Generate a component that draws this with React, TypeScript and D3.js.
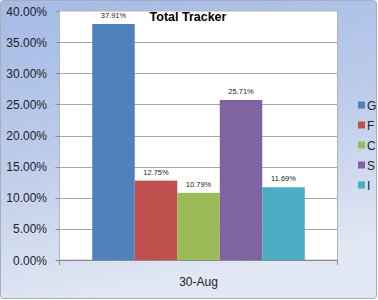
import React from "react";
import * as d3 from "d3";

const categories = ["30-Aug"];
const seriesNames = ["G", "F", "C", "S", "I"];
const seriesValues = [37.91, 12.75, 10.79, 25.71, 11.69];
const seriesColors = ["#4f81bd", "#c0504d", "#9bbb59", "#8064a2", "#4bacc6"];
const yTicks = [0, 5, 10, 15, 20, 25, 30, 35, 40];
const title = "Total Tracker";

export default function App() {
  const W = 378, H = 300;
  const plot = { left: 59.5, right: 337.5, top: 11, bottom: 260 };
  const y = d3.scaleLinear().domain([0, 40]).range([plot.bottom, plot.top]);
  const x0 = d3.scaleBand().domain(categories).range([plot.left, plot.right]).paddingInner(0).paddingOuter(0.154);
  const x1 = d3.scaleBand().domain(seriesNames).range([0, x0.bandwidth()]).padding(0);
  const font = "'Liberation Sans', Arial, sans-serif";
  return (
    <div style={{ position: "absolute", left: 0, top: 0 }}>
      <svg width={W} height={H} style={{ display: "block" }}>
        <defs>
          <linearGradient id="bg" x1="0" y1="0" x2="0.25" y2="1">
            <stop offset="0" stopColor="#a3bbe6" />
            <stop offset="0.5" stopColor="#bccbea" />
            <stop offset="1" stopColor="#e1e7f3" />
          </linearGradient>
        </defs>
        <rect x={0.5} y={0.5} width={W - 2} height={H - 2} rx={3} fill="url(#bg)" stroke="#a8adb6" />
        <rect x={plot.left} y={plot.top} width={plot.right - plot.left} height={plot.bottom - plot.top} fill="#ffffff" stroke="#b4b4b4" strokeWidth={1} />
        {yTicks.map((t) => (
          <g key={t}>
            {t > 0 && t < 40 && (
              <line x1={plot.left} x2={plot.right} y1={Math.round(y(t)) + 0.5} y2={Math.round(y(t)) + 0.5} stroke="#a6a6a6" />
            )}
            <line x1={plot.left - 4} x2={plot.left} y1={Math.round(y(t)) + 0.5} y2={Math.round(y(t)) + 0.5} stroke="#8c8c8c" />
            <text x={47} y={y(t) + 4.5} textAnchor="end" fontFamily={font} fontSize={12} fill="#222">
              {t.toFixed(2) + "%"}
            </text>
          </g>
        ))}
        <line x1={plot.left} x2={plot.right} y1={plot.bottom + 0.5} y2={plot.bottom + 0.5} stroke="#8c8c8c" />
        <line x1={plot.left} x2={plot.left} y1={plot.bottom} y2={plot.bottom + 5} stroke="#8c8c8c" />
        <line x1={plot.right} x2={plot.right} y1={plot.bottom} y2={plot.bottom + 5} stroke="#8c8c8c" />
        {categories.map((c) => (
          <g key={c}>
            {seriesNames.map((s, i) => {
              const bx = (x0(c) as number) + (x1(s) as number);
              const v = seriesValues[i];
              return (
                <g key={s}>
                  <rect x={bx} y={y(v)} width={x1.bandwidth()} height={plot.bottom - y(v)} fill={seriesColors[i]} />
                  <text x={bx + x1.bandwidth() / 2} y={y(v) - 6} textAnchor="middle" fontFamily={font} fontSize={7.5} fill="#222">
                    {v.toFixed(2) + "%"}
                  </text>
                </g>
              );
            })}
            <text x={(x0(c) as number) + x0.bandwidth() / 2} y={286} textAnchor="middle" fontFamily={font} fontSize={12} fill="#222">
              {c}
            </text>
          </g>
        ))}
        <text x={188} y={21} textAnchor="middle" fontFamily={font} fontSize={12.5} fontWeight="bold" fill="#000">
          {title}
        </text>
        {seriesNames.map((s, i) => (
          <g key={s} transform={`translate(358, ${105 + i * 20})`}>
            <rect x={0} y={-3.5} width={7} height={7} fill={seriesColors[i]} />
            <text x={9} y={4.5} fontFamily={font} fontSize={12} fill="#222">{s}</text>
          </g>
        ))}
      </svg>
    </div>
  );
}
